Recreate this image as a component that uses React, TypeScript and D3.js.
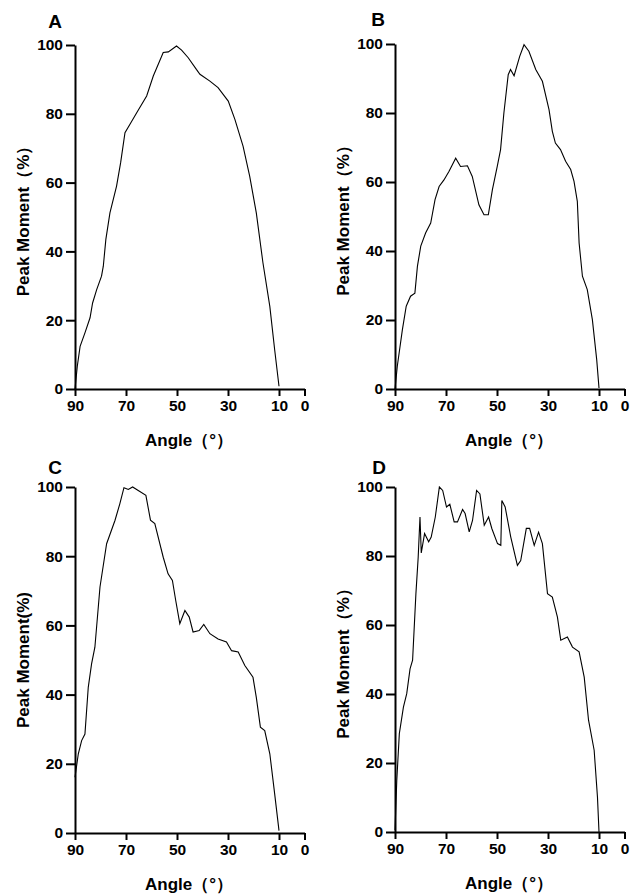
import React, { useEffect, useRef } from 'react';
import * as d3 from 'd3';

const angleTicks = [90, 70, 50, 30, 10, 0];
const momentTicks = [0, 20, 40, 60, 80, 100];

// panel A
const angleA = [90, 89.1, 88.0, 86.1, 84.1, 83.1, 81.5, 79.6, 78.9, 77.9, 76.3, 73.7, 72.1, 70.4, 68.5, 65.8, 61.9, 59.3, 55.4, 53.4, 50.2, 48.2, 45.6, 42.4, 41.0, 37.1, 33.9, 29.9, 27.3, 24.1, 21.5, 18.9, 16.3, 13.6, 11.7, 10];
const momentA = [0, 6.6, 12.4, 16.3, 20.7, 25, 28.9, 32.8, 35.7, 43.5, 51.2, 59, 65.8, 74.5, 76.9, 80.3, 85.2, 91, 97.8, 98, 99.7, 98.5, 96.3, 92.9, 91.5, 89.5, 87.6, 83.7, 78.4, 70.6, 61.9, 51.2, 36.7, 24, 11.4, 0.8];

// panel B
const angleB = [90, 89.1, 87.1, 85.6, 83.9, 82.2, 81.2, 79.9, 78.0, 76.0, 74.3, 72.7, 70.8, 68.8, 66.2, 64.3, 61.6, 59.7, 57.1, 55.1, 53.4, 51.8, 49.9, 48.6, 47.3, 45.6, 44.7, 43.3, 41.1, 39.4, 37.5, 34.8, 32.2, 29.6, 28.3, 27.1, 25.1, 23.1, 21.1, 19.8, 18.5, 17.8, 16.5, 14.6, 12.6, 10.9, 10];
const momentB = [0, 6.6, 17.2, 24, 26.9, 27.8, 35.6, 41.4, 45.2, 48.1, 54.9, 58.7, 60.6, 63.1, 66.9, 64.5, 64.7, 61.6, 53.4, 50.5, 50.5, 57.8, 64.5, 69.4, 80, 91.1, 92.6, 90.8, 96.4, 99.8, 97.9, 92.6, 89.2, 81, 74.7, 71.3, 69.4, 66, 63.6, 60.2, 54.4, 42.3, 32.7, 28.8, 20.1, 8.5, 0.3];

// panel C
const angleC = [90, 88.7, 87.4, 86.1, 84.8, 83.5, 82.2, 80.2, 77.6, 74.3, 72.4, 70.8, 69.1, 67.4, 65.2, 62.2, 60.4, 58.7, 55.4, 53.5, 51.8, 50.5, 48.9, 46.9, 45.2, 43.7, 41.3, 39.5, 37.1, 33.9, 30.6, 28.6, 26.0, 23.4, 20.2, 18.9, 17.3, 15.6, 13.6, 11.7, 10];
const momentC = [16.1, 22.9, 26.7, 28.6, 42.1, 48.9, 53.7, 71.1, 83.6, 90.4, 95.2, 99.8, 99.3, 100, 99, 97.6, 90.4, 89.4, 79.7, 74.9, 73, 67.2, 60.5, 64.3, 62.4, 58.1, 58.5, 60.3, 57.6, 56.1, 55.2, 52.7, 52.3, 48.4, 45, 39.2, 30.6, 29.6, 22.9, 11.3, 0.7];

// panel D
const angleD = [90, 89.3, 88.3, 86.7, 85.4, 84.1, 83.1, 81.8, 80.9, 80.2, 79.7, 78.4, 76.8, 75.8, 74.2, 72.6, 71.3, 69.8, 68.5, 66.8, 65.5, 63.5, 62.5, 60.9, 59.6, 58.0, 56.7, 55.0, 53.3, 52.0, 49.8, 48.5, 48.1, 46.8, 44.6, 42.0, 40.7, 38.5, 37.2, 35.4, 33.7, 32.2, 30.2, 28.3, 26.3, 25.0, 22.4, 20.4, 17.8, 15.8, 14.1, 11.9, 10.6, 10];
const momentD = [0.5, 15, 28.5, 36.2, 40.1, 47.3, 49.8, 69.1, 79.7, 91.3, 80.9, 86.5, 84.1, 85.5, 91.3, 100, 99, 94.2, 95, 89.9, 89.9, 93.5, 92.3, 87, 90.3, 99, 98, 88.9, 91.3, 87.9, 83.6, 83.1, 96.1, 94.2, 85.5, 77.3, 78.7, 88, 88, 83.1, 86.9, 83.6, 69.1, 68.1, 62.3, 55.6, 56.5, 53.6, 52.2, 44.9, 32.4, 23.7, 10.1, 0];

const panels = [
  { letter: 'A', angles: angleA, moments: momentA, left: 75, top: 45, bottom: 389, letterX: 55, letterY: 28, yLabel: 'Peak Moment（%）' },
  { letter: 'B', angles: angleB, moments: momentB, left: 395, top: 44, bottom: 389, letterX: 378, letterY: 26, yLabel: 'Peak Moment（%）' },
  { letter: 'C', angles: angleC, moments: momentC, left: 75, top: 487, bottom: 833, letterX: 55, letterY: 474, yLabel: 'Peak Moment(%)' },
  { letter: 'D', angles: angleD, moments: momentD, left: 395, top: 487, bottom: 832, letterX: 379, letterY: 474, yLabel: 'Peak Moment（%）' },
];

const App = () => {
  const svgRef = useRef<SVGSVGElement>(null);

  useEffect(() => {
    if (!svgRef.current) return;
    const svg = d3.select(svgRef.current);
    svg.selectAll('*').remove();
    const font = '"Liberation Sans", Arial, sans-serif';

    panels.forEach(p => {
      const x = d3.scaleLinear().domain([90, 0]).range([p.left, p.left + 229.5]);
      const y = d3.scaleLinear().domain([0, 100]).range([p.bottom, p.top]);
      const g = svg.append('g');

      const xAxis = g.append('g')
        .attr('transform', `translate(0,${p.bottom})`)
        .call(d3.axisBottom(x).tickValues(angleTicks).tickSize(7).tickSizeOuter(0).tickPadding(4));
      const yAxis = g.append('g')
        .attr('transform', `translate(${p.left},0)`)
        .call(d3.axisLeft(y).tickValues(momentTicks).tickSize(9).tickSizeOuter(0).tickPadding(3));

      [xAxis, yAxis].forEach(a => {
        a.selectAll('path').attr('stroke', '#000').attr('stroke-width', 2);
        a.selectAll('line').attr('stroke', '#000').attr('stroke-width', 2);
        a.selectAll('text')
          .attr('fill', '#000')
          .style('font-family', font)
          .style('font-size', '15.5px')
          .style('font-weight', 'bold');
      });

      const line = d3.line<number>()
        .x((d, i) => x(p.angles[i]))
        .y(d => y(d));

      g.append('path')
        .datum(p.moments)
        .attr('d', line)
        .attr('fill', 'none')
        .attr('stroke', '#000')
        .attr('stroke-width', 1.1);

      g.append('text')
        .attr('x', p.letterX)
        .attr('y', p.letterY)
        .attr('text-anchor', 'middle')
        .style('font-family', font)
        .style('font-size', '19px')
        .style('font-weight', 'bold')
        .text(p.letter);

      g.append('text')
        .attr('transform', `translate(${p.left - 52},${(p.top + p.bottom) / 2}) rotate(-90)`)
        .attr('text-anchor', 'middle')
        .attr('dy', '0.35em')
        .style('font-family', font)
        .style('font-size', '17px')
        .style('font-weight', 'bold')
        .text(p.yLabel);

      g.append('text')
        .attr('x', p.left + 114)
        .attr('y', p.bottom + 57)
        .attr('text-anchor', 'middle')
        .style('font-family', font)
        .style('font-size', '17px')
        .style('font-weight', 'bold')
        .text('Angle（°）');
    });
  }, []);

  return (
    <svg
      ref={svgRef}
      width={632}
      height={895}
      style={{ position: 'absolute', left: 0, top: 0, background: '#fff' }}
    />
  );
};

export default App;
